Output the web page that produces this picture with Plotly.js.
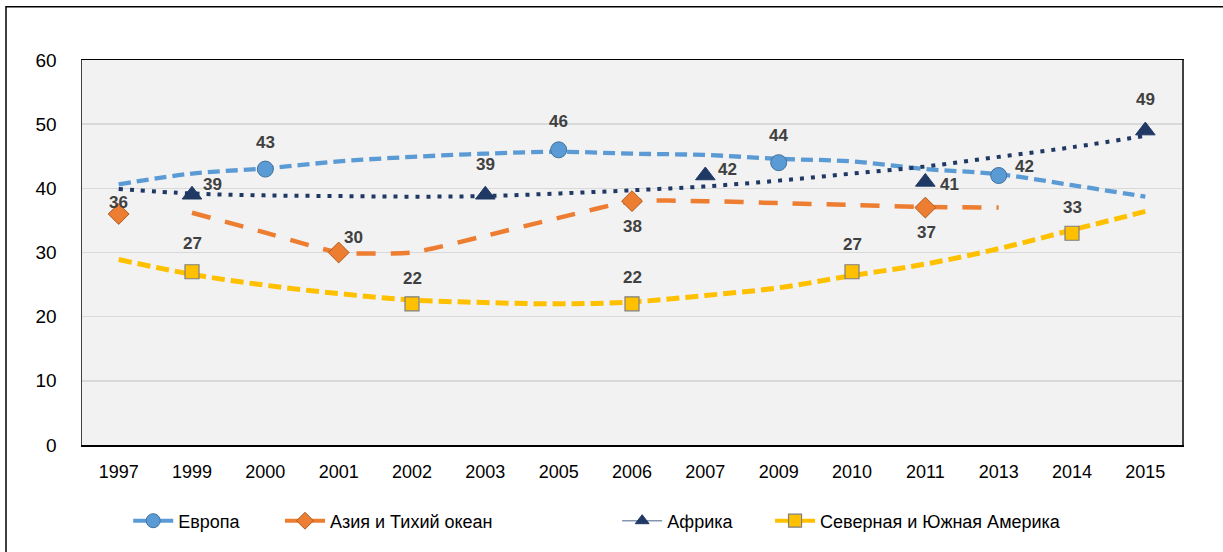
<!DOCTYPE html>
<html>
<head>
<meta charset="utf-8">
<script src="https://cdn.plot.ly/plotly-3.0.1.min.js"></script>
<style>html,body{margin:0;padding:0;background:#fff;}#chart{width:1223px;height:552px;}</style>
</head>
<body>
<div id="chart"></div>
<script>
// Categories (years)
const years = ['1997','1999','2000','2001','2002','2003','2005','2006','2007','2009','2010','2011','2013','2014','2015'];

// Observed values (null = no observation)
const europe   = [null, null, 43, null, null, null, 46, null, null, 44, null, null, 42, null, null];
const asia     = [36, null, null, 30, null, null, null, 38, null, null, null, 37, null, null, null];
const africa   = [null, 39, null, null, null, 39, null, null, 42, null, null, 41, null, null, 49];
const americas = [null, 27, null, null, 22, null, null, 22, null, null, 27, null, null, 33, null];

// Trend lines
const europeTrend   = [40.6, 42.3, 43.1, 44.2, 44.9, 45.4, 45.7, 45.4, 45.2, 44.6, 44.2, 43.0, 42.2, 40.5, 38.7];
const asiaTrend     = [null, 36.2, 33.1, 30.0, 30.0, 32.6, 35.4, 38.0, 38.0, 37.7, 37.4, 37.1, 37.0, null, null];
const africaTrend   = [39.9, 39.2, 38.9, 38.8, 38.7, 38.8, 39.2, 39.7, 40.3, 41.2, 42.3, 43.4, 44.9, 46.4, 48.2];
const americasTrend = [28.9, 26.6, 24.9, 23.6, 22.6, 22.2, 22.0, 22.3, 23.3, 24.5, 26.4, 28.2, 30.6, 33.5, 36.4];

const seriesNames = ['Европа', 'Азия и Тихий океан', 'Африка', 'Северная и Южная Америка'];

// Label placements (pixel offsets of each data label), per series
const labelOffsets = {
  europe:   {'2000':[0,27], '2005':[0,28], '2009':[0,27], '2013':[26,9]},
  asia:     {'1997':[0,12], '2001':[15,15], '2006':[0,-25], '2011':[1,-25]},
  africa:   {'1999':[20,10], '2003':[0,30], '2007':[22,6], '2011':[24,-3], '2015':[0,31]},
  americas: {'1999':[0,28], '2002':[0,25], '2006':[0,26], '2010':[0,27], '2014':[0,26]}
};

const FONT = '"Liberation Sans", Arial, sans-serif';
const colors = {europe:'#5B9BD5', asia:'#ED7D31', africa:'#1F3864', americas:'#FFC000'};

const traces = [];
// Trend lines
traces.push({x: years, y: europeTrend, mode:'lines', line:{color:colors.europe, width:4.3, dash:'12px,6px', shape:'spline'}, showlegend:false, hoverinfo:'skip'});
traces.push({x: years, y: asiaTrend, mode:'lines', line:{color:colors.asia, width:4.5, dash:'19px,15px', shape:'spline', smoothing:0.5}, showlegend:false, hoverinfo:'skip'});
traces.push({x: years, y: africaTrend, mode:'lines', line:{color:colors.africa, width:4, dash:'4px,7px', shape:'spline'}, showlegend:false, hoverinfo:'skip'});
traces.push({x: years, y: americasTrend, mode:'lines', line:{color:colors.americas, width:5, dash:'13px,6px', shape:'spline'}, showlegend:false, hoverinfo:'skip'});

// Markers
const markerDefs = [
  {data: europe,   marker:{symbol:'circle', size:16, color:colors.europe, line:{color:'#41719C', width:1}}},
  {data: asia,     marker:{symbol:'diamond', size:16, color:colors.asia, line:{color:'#AE5A21', width:1}}},
  {data: africa,   marker:{symbol:'triangle-up', size:17, color:colors.africa, line:{color:colors.africa, width:1}}},
  {data: americas, marker:{symbol:'square', size:14, color:colors.americas, line:{color:'#7F7F7F', width:1.2}}}
];
markerDefs.forEach(d => {
  traces.push({x: years, y: d.data, mode:'markers', marker: d.marker, showlegend:false, hoverinfo:'skip'});
});

// Legend entries
const legendLines = [
  {color:colors.europe, width:4},
  {color:colors.asia, width:4},
  {color:'#8497B0', width:1.5},
  {color:colors.americas, width:4}
];
const legendMarkerSizes = [14, 13, 12, 13];
const legendIds = ['legend','legend2','legend3','legend4'];
seriesNames.forEach((n, i) => {
  traces.push({x:[years[0]], y:[null], mode:'lines+markers', name:n, legend: legendIds[i],
    line: legendLines[i], marker: Object.assign({}, markerDefs[i].marker, {size: legendMarkerSizes[i]}), hoverinfo:'skip'});
});

// Data labels (x given as category index)
const annotations = [];
const allSeries = {europe, asia, africa, americas};
Object.keys(allSeries).forEach(k => {
  allSeries[k].forEach((v, i) => {
    if (v === null) return;
    const off = labelOffsets[k][years[i]] || [0, 20];
    annotations.push({x: i, y: v, xref:'x', yref:'y', text: String(v), showarrow:false,
      xshift: off[0], yshift: off[1], font:{family: FONT, size:17, color:'#404040', weight:'bold'}});
  });
});

const legendXs = [0.042, 0.180, 0.4865, 0.6255];
const layout = {
  width: 1223, height: 552,
  margin: {l:82, r:41, t:60, b:102},
  paper_bgcolor:'#FFFFFF', plot_bgcolor:'#F2F2F2',
  font: {family: FONT, size: 18, color:'#000000'},
  showlegend: true,
  xaxis: {type:'category', categoryorder:'array', categoryarray: years, range:[-0.5, years.length - 0.5], autorange:false,
    showgrid:false, showline:true, linecolor:'#000000', linewidth:1.5, mirror:true,
    ticks:'', ticklabelstandoff: 10, tickfont:{family: FONT, size:18, color:'#000'}, fixedrange:true, zeroline:false},
  yaxis: {range:[0,60], autorange:false, dtick:10, showgrid:true, gridcolor:'#D9D9D9', gridwidth:1.5, showline:true, linecolor:'#404040',
    linewidth:1.5, mirror:true, ticks:'', ticklabelstandoff: 20, tickfont:{family: FONT, size:19, color:'#000'}, zeroline:false, fixedrange:true},
  annotations: annotations,
  shapes: [
    {type:'rect', xref:'paper', yref:'paper', x0: (6-82)/1100, x1: 1.2, y0: -0.5, y1: (450-6)/390,
     line:{color:'#000000', width:1.5}, fillcolor:'rgba(0,0,0,0)', layer:'above'}
  ]
};
legendIds.forEach((id, i) => {
  layout[id] = {orientation:'h', x: legendXs[i], xanchor:'left', y: (450-527)/390, yanchor:'middle',
    bgcolor:'rgba(0,0,0,0)', borderwidth:0, font:{family: FONT, size:18, color:'#000'}, itemwidth:40};
});

Plotly.newPlot('chart', traces, layout, {staticPlot:true, displayModeBar:false});
</script>
</body>
</html>
